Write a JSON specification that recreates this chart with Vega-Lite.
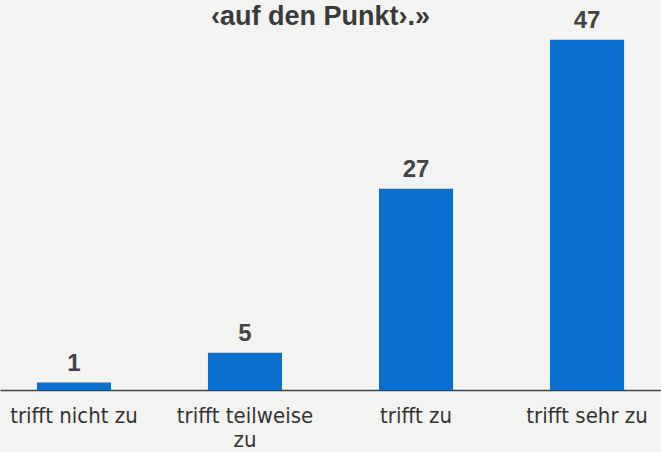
{
  "$schema": "https://vega.github.io/schema/vega-lite/v6.json",
  "width": 661,
  "height": 360,
  "autosize": "none",
  "padding": {"top": 30, "left": 0, "right": 0, "bottom": 62},
  "background": "#f3f3f1",
  "title": {"text": "‹auf den Punkt›.»", "anchor": "middle", "fontSize": 27, "fontWeight": "bold", "color": "#3a3a3a", "font": "Liberation Sans", "offset": -22, "dx": -10},
  "data": {"values": [
    {"kategorie": "trifft nicht zu", "wert": 1},
    {"kategorie": "trifft teilweise|zu", "wert": 5},
    {"kategorie": "trifft zu", "wert": 27},
    {"kategorie": "trifft sehr zu", "wert": 47}
  ]},
  "config": {"view": {"stroke": null}},
  "encoding": {
    "x": {"field": "kategorie", "type": "nominal", "sort": null,
      "scale": {"paddingInner": 0.567, "paddingOuter": 0.216},
      "axis": {"title": null, "labelAngle": 0, "ticks": false, "domainColor": "#444", "domainWidth": 1.5,
        "labelFont": "DejaVu Sans Condensed, Liberation Sans Narrow, Liberation Sans", "labelFontSize": 22, "labelColor": "#333", "labelPadding": 15,
        "labelExpr": "split(datum.label, '|')", "labelLineHeight": 24}},
    "y": {"field": "wert", "type": "quantitative", "scale": {"domain": [0, 48.3]}, "axis": null}
  },
  "layer": [
    {"mark": {"type": "bar", "color": "#0a6fcf"}},
    {"mark": {"type": "text", "baseline": "bottom", "dy": -7, "fontSize": 24, "fontWeight": "bold", "color": "#444", "font": "Liberation Sans"},
     "encoding": {"text": {"field": "wert", "type": "quantitative"}}}
  ]
}
